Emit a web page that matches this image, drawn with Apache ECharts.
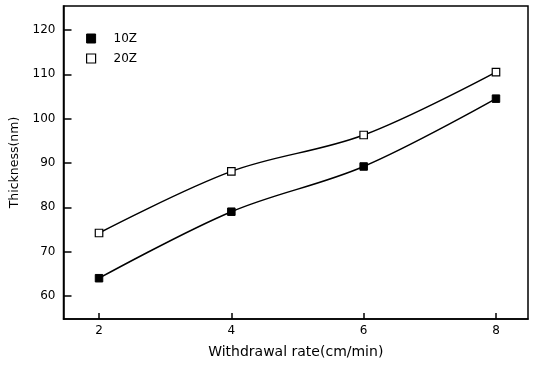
<!DOCTYPE html>
<html>
<head>
<meta charset="utf-8">
<script src="https://cdn.jsdelivr.net/npm/echarts@6/dist/echarts.min.js"></script>
<style>html,body{margin:0;padding:0;background:#fff}#c{width:533px;height:371px}</style>
</head>
<body>
<div id="c"></div>
<script>
var rates = [2, 4, 6, 8];
var s10Z = [64.0, 79.0, 89.2, 104.5];
var s20Z = [74.2, 88.1, 96.3, 110.5];
var xTicks = [2, 4, 6, 8];
var yTicks = [60, 70, 80, 90, 100, 110, 120];
var seriesNames = ['10Z', '20Z'];

function pairs(xs, ys) { return xs.map(function (x, i) { return [x, ys[i]]; }); }

var font = 'DejaVu Sans';
var chart = echarts.init(document.getElementById('c'), null, { renderer: 'canvas' });
chart.setOption({
  animation: false,
  backgroundColor: '#fff',
  grid: { left: 63.5, right: 5, top: 6, bottom: 52, show: true, borderColor: '#000', borderWidth: 1.5, backgroundColor: 'transparent' },
  legend: {
    orient: 'vertical', left: 81, top: 27.5, itemGap: 8, itemWidth: 9, itemHeight: 9,
    textStyle: { fontFamily: font, fontSize: 12, color: '#000', padding: [0, 0, 0, 13] },
    data: [
      { name: seriesNames[0], icon: 'rect', itemStyle: { color: '#000', borderColor: '#000', borderWidth: 1 } },
      { name: seriesNames[1], icon: 'rect', itemStyle: { color: '#fff', borderColor: '#000', borderWidth: 1.2 } }
    ]
  },
  xAxis: {
    type: 'value', min: 1.463, max: 8.484,
    name: 'Withdrawal rate(cm/min)', nameLocation: 'middle', nameGap: 26,
    nameTextStyle: { fontFamily: font, fontSize: 14, color: '#000' },
    axisLine: { show: true, lineStyle: { color: '#000', width: 1.5 } },
    axisTick: { show: true, inside: true, length: 6, customValues: xTicks, lineStyle: { color: '#000', width: 1.5 } },
    axisLabel: { customValues: xTicks, fontFamily: font, fontSize: 12, color: '#000', margin: 6 },
    splitLine: { show: false }
  },
  yAxis: {
    type: 'value', min: 54.8, max: 125.4,
    name: 'Thickness(nm)', nameLocation: 'middle', nameGap: 40,
    nameTextStyle: { fontFamily: font, fontSize: 12.5, color: '#000' },
    axisLine: { show: true, lineStyle: { color: '#000', width: 1.5 } },
    axisTick: { show: true, inside: true, length: 8, customValues: yTicks, lineStyle: { color: '#000', width: 1.5 } },
    axisLabel: { customValues: yTicks, fontFamily: font, fontSize: 12, color: '#000', margin: 8 },
    splitLine: { show: false }
  },
  series: [
    {
      name: seriesNames[0], type: 'line', smooth: 0.35, data: pairs(rates, s10Z),
      symbol: 'rect', symbolSize: 7.5, showAllSymbol: true,
      lineStyle: { color: '#000', width: 1.5 },
      itemStyle: { color: '#000', borderColor: '#000', borderWidth: 1 }
    },
    {
      name: seriesNames[1], type: 'line', smooth: 0.35, data: pairs(rates, s20Z),
      symbol: 'rect', symbolSize: 7.5, showAllSymbol: true,
      lineStyle: { color: '#000', width: 1.5 },
      itemStyle: { color: '#fff', borderColor: '#000', borderWidth: 1.2 }
    }
  ]
});
</script>
</body>
</html>
